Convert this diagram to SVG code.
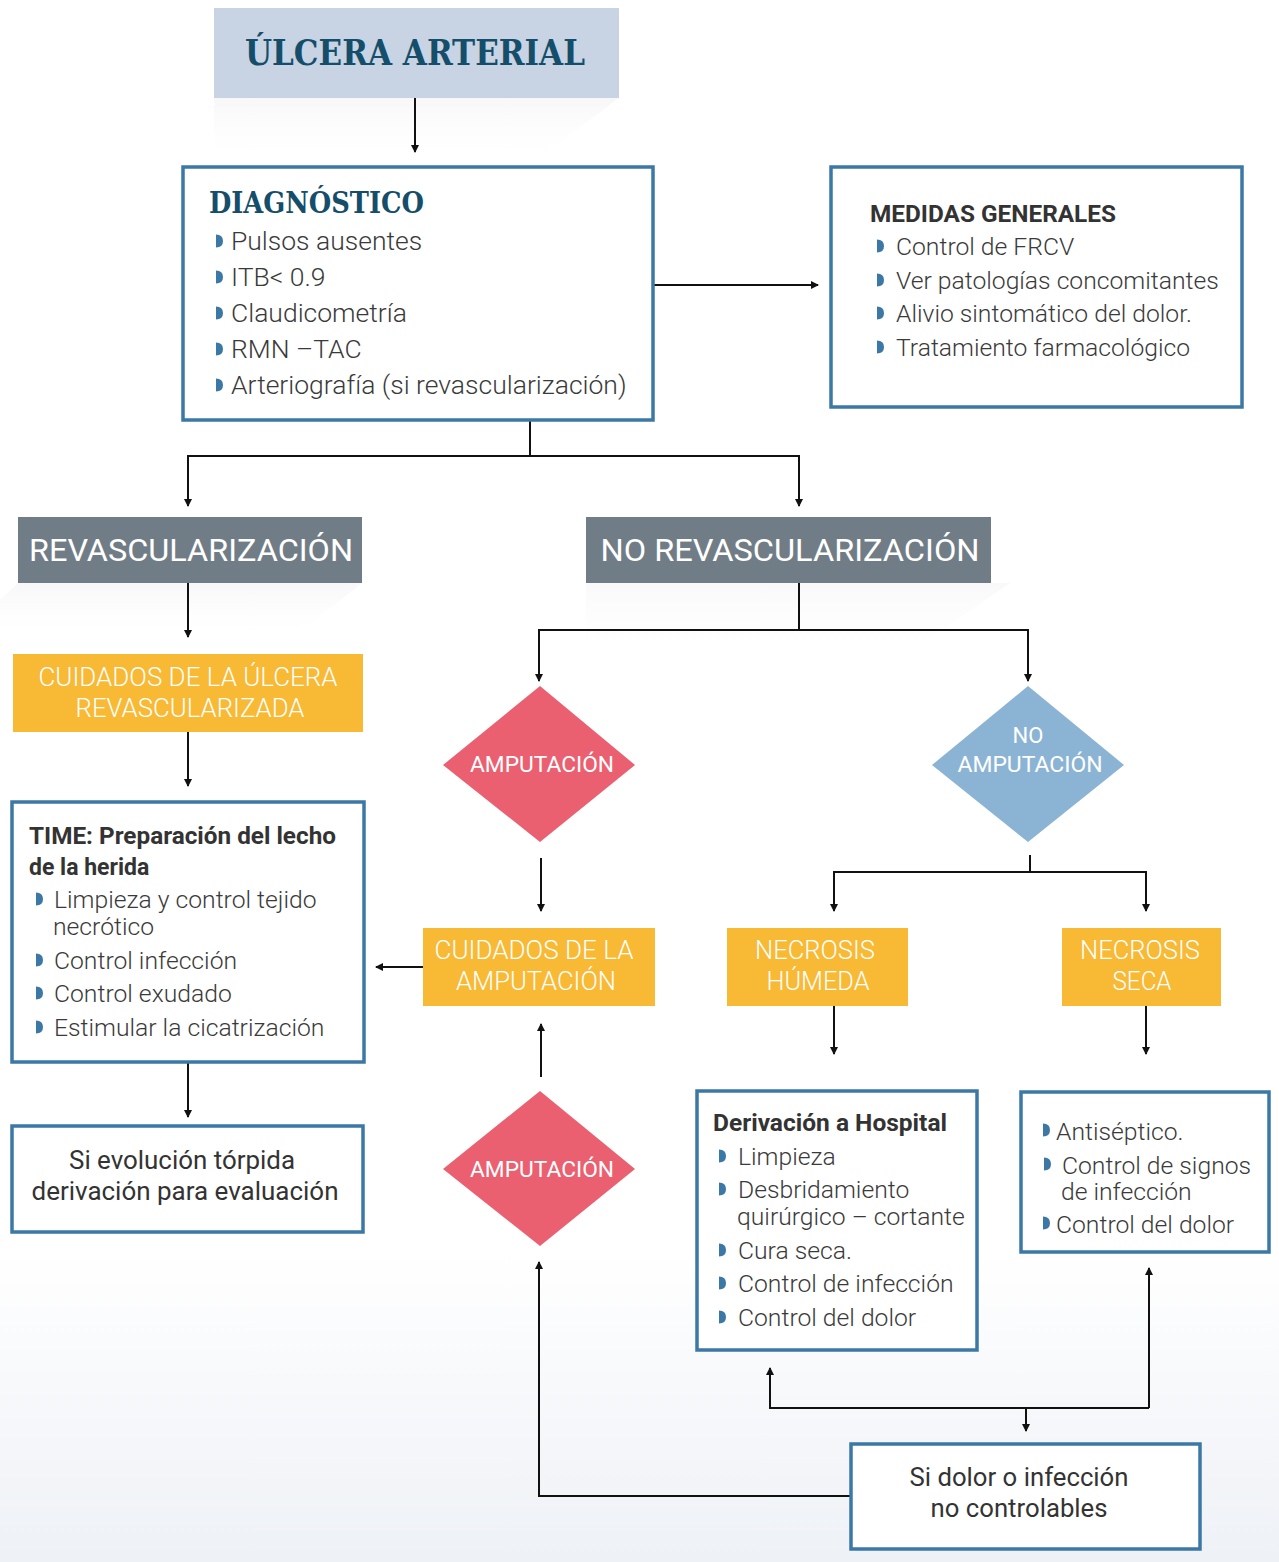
<svg xmlns="http://www.w3.org/2000/svg" xmlns:xlink="http://www.w3.org/1999/xlink" width="1279" height="1562" viewBox="0 0 1279 1562">
<defs>
<style>
.box{fill:#fff;stroke:#3b78a6;stroke-width:3.5}
.slab{font-family:"DejaVu Serif","Liberation Serif",serif;font-weight:bold;fill:#144e6a}
.body{font-family:Roboto,"Liberation Sans",sans-serif;font-weight:300;font-size:24.7px;fill:#3a3a3a}
.big{font-size:26.5px}
.bold{font-family:Roboto,"Liberation Sans",sans-serif;font-weight:bold;font-size:23px;fill:#333}
.reg{font-family:Roboto,"Liberation Sans",sans-serif;font-weight:400;font-size:25px;fill:#333}
.wh{font-family:Roboto,"Liberation Sans",sans-serif;font-weight:400;fill:#fff;text-anchor:middle}
.whl{font-family:Roboto,"Liberation Sans",sans-serif;font-weight:300;fill:#fff;text-anchor:middle;font-size:25px}
.c{fill:none;stroke:#111;stroke-width:2}
.gray{fill:#717d86}
.yel{fill:#f8b935}
.red{fill:#eb6070}
.blu{fill:#8bb4d4}
</style>
<marker id="ah" viewBox="0 0 8 8" refX="7" refY="4" markerWidth="4" markerHeight="4" orient="auto" markerUnits="strokeWidth">
<path d="M0,0 L8,4 L0,8 Z" fill="#111"/>
</marker>
<path id="bl" d="M0,-6.5 Q7,-6.5 7,0 Q7,6.5 0,6.5 Z" fill="#3b78a6"/>
<linearGradient id="sh" x1="0" y1="0" x2="0" y2="1">
<stop offset="0" stop-color="#ececec" stop-opacity="0.8"/>
<stop offset="1" stop-color="#ffffff" stop-opacity="0"/>
</linearGradient>
<linearGradient id="bg" x1="0" y1="0" x2="0" y2="1">
<stop offset="0" stop-color="#ffffff"/>
<stop offset="1" stop-color="#eef1f6"/>
</linearGradient>
</defs>
<rect x="0" y="0" width="1279" height="1562" fill="#fff"/>
<rect x="0" y="1250" width="1279" height="312" fill="url(#bg)"/>
<g id="shadows">
<polygon points="214,98 619,98 530,165 214,165" fill="url(#sh)" opacity="0.5"/>
<polygon points="18,583 362,583 290,640 0,640 0,600" fill="url(#sh)" opacity="0.5"/>
<polygon points="586,583 1010,583 900,660 586,660" fill="url(#sh)" opacity="0.4"/>
</g>

<g id="connectors">
<line class="c" x1="415" y1="98" x2="415" y2="152" marker-end="url(#ah)"/>
<line class="c" x1="653" y1="285" x2="818" y2="285" marker-end="url(#ah)"/>
<polyline class="c" points="530,420 530,456"/>
<polyline class="c" points="188,506 188,456 799,456 799,506" marker-end="url(#ah)"/>
<line class="c" x1="188" y1="456" x2="188" y2="506" marker-end="url(#ah)"/>
<line class="c" x1="188" y1="583" x2="188" y2="637" marker-end="url(#ah)"/>
<line class="c" x1="188" y1="732" x2="188" y2="786" marker-end="url(#ah)"/>
<line class="c" x1="188" y1="1062" x2="188" y2="1117" marker-end="url(#ah)"/>
<polyline class="c" points="799,583 799,630"/>
<polyline class="c" points="539,681 539,630 1028,630 1028,681" marker-end="url(#ah)"/>
<line class="c" x1="539" y1="630" x2="539" y2="681" marker-end="url(#ah)"/>
<line class="c" x1="541" y1="858" x2="541" y2="911" marker-end="url(#ah)"/>
<line class="c" x1="423" y1="967" x2="376" y2="967" marker-end="url(#ah)"/>
<line class="c" x1="541" y1="1077" x2="541" y2="1024" marker-end="url(#ah)"/>
<polyline class="c" points="1030,855 1030,872"/>
<polyline class="c" points="834,911 834,872 1146,872 1146,911" marker-end="url(#ah)"/>
<line class="c" x1="834" y1="872" x2="834" y2="911" marker-end="url(#ah)"/>
<line class="c" x1="834" y1="1006" x2="834" y2="1054" marker-end="url(#ah)"/>
<line class="c" x1="1146" y1="1006" x2="1146" y2="1054" marker-end="url(#ah)"/>
<polyline class="c" points="1149,1408 770,1408 770,1368" marker-end="url(#ah)"/>
<line class="c" x1="1149" y1="1408" x2="1149" y2="1268" marker-end="url(#ah)"/>
<line class="c" x1="1026" y1="1408" x2="1026" y2="1431" marker-end="url(#ah)"/>
<polyline class="c" points="851,1496 539,1496 539,1262" marker-end="url(#ah)"/>
</g>

<g id="n-title">
<rect x="214" y="8" width="405" height="90" fill="#c8d3e4"/>
<text class="slab" x="415" y="65" font-size="36" text-anchor="middle" textLength="340" lengthAdjust="spacingAndGlyphs">ÚLCERA ARTERIAL</text>
</g>

<g id="n-diagnostico">
<rect class="box" x="183" y="167" width="470" height="253"/>
<text class="slab" x="209" y="213" font-size="30" textLength="215" lengthAdjust="spacingAndGlyphs">DIAGNÓSTICO</text>
<use xlink:href="#bl" x="216" y="241"/>
<use xlink:href="#bl" x="216" y="277"/>
<use xlink:href="#bl" x="216" y="313"/>
<use xlink:href="#bl" x="216" y="349"/>
<use xlink:href="#bl" x="216" y="385"/>
<text class="body big" x="231" y="250">Pulsos ausentes</text>
<text class="body big" x="231" y="286">ITB&lt; 0.9</text>
<text class="body big" x="231" y="322">Claudicometría</text>
<text class="body big" x="231" y="358">RMN –TAC</text>
<text class="body big" x="231" y="394">Arteriografía (si revascularización)</text>
</g>

<g id="n-medidas">
<rect class="box" x="831" y="167" width="411" height="240"/>
<text class="bold" x="870" y="222" textLength="246" lengthAdjust="spacingAndGlyphs">MEDIDAS GENERALES</text>
<use xlink:href="#bl" x="877" y="246"/>
<use xlink:href="#bl" x="877" y="280"/>
<use xlink:href="#bl" x="877" y="313"/>
<use xlink:href="#bl" x="877" y="347"/>
<text class="body" x="896" y="255">Control de FRCV</text>
<text class="body" x="896" y="289">Ver patologías concomitantes</text>
<text class="body" x="896" y="322">Alivio sintomático del dolor.</text>
<text class="body" x="896" y="356">Tratamiento farmacológico</text>
</g>

<g id="n-revasc">
<rect class="gray" x="18" y="517" width="344" height="66"/>
<text class="wh" x="191" y="561" font-size="32" textLength="324" lengthAdjust="spacingAndGlyphs">REVASCULARIZACIÓN</text>
</g>

<g id="n-norevasc">
<rect class="gray" x="586" y="517" width="405" height="66"/>
<text class="wh" x="790" y="561" font-size="32" textLength="379" lengthAdjust="spacingAndGlyphs">NO REVASCULARIZACIÓN</text>
</g>

<g id="n-cuidados-ulcera">
<rect class="yel" x="13" y="654" width="350" height="78"/>
<text class="whl" x="188" y="686" textLength="299" lengthAdjust="spacingAndGlyphs">CUIDADOS DE LA ÚLCERA</text>
<text class="whl" x="190" y="717" textLength="229" lengthAdjust="spacingAndGlyphs">REVASCULARIZADA</text>
</g>

<g id="n-time">
<rect class="box" x="12" y="802" width="352" height="260"/>
<text class="bold" x="29" y="844" textLength="307" lengthAdjust="spacingAndGlyphs">TIME: Preparación del lecho</text>
<text class="bold" x="29" y="875">de la herida</text>
<use xlink:href="#bl" x="36" y="899"/>
<use xlink:href="#bl" x="36" y="960"/>
<use xlink:href="#bl" x="36" y="993"/>
<use xlink:href="#bl" x="36" y="1027"/>
<text class="body" x="54" y="908">Limpieza y control tejido</text>
<text class="body" x="53" y="935">necrótico</text>
<text class="body" x="54" y="969">Control infección</text>
<text class="body" x="54" y="1002">Control exudado</text>
<text class="body" x="54" y="1036">Estimular la cicatrización</text>
</g>

<g id="n-evolucion">
<rect class="box" x="12" y="1126" width="351" height="106"/>
<text class="reg" x="182" y="1169" text-anchor="middle" textLength="226" lengthAdjust="spacingAndGlyphs">Si evolución tórpida</text>
<text class="reg" x="185" y="1200" text-anchor="middle" textLength="307" lengthAdjust="spacingAndGlyphs">derivación para evaluación</text>
</g>

<g id="n-amputacion1">
<polygon class="red" points="540,686 635,765 540,842 443,765"/>
<text class="wh" x="542" y="772" font-size="22" textLength="144" lengthAdjust="spacingAndGlyphs">AMPUTACIÓN</text>
</g>

<g id="n-noamputacion">
<polygon class="blu" points="1028,686 1124,765 1028,842 932,765"/>
<text class="wh" x="1028" y="743" font-size="22">NO</text>
<text class="wh" x="1030" y="772" font-size="22" textLength="145" lengthAdjust="spacingAndGlyphs">AMPUTACIÓN</text>
</g>

<g id="n-cuidados-amp">
<rect class="yel" x="423" y="928" width="232" height="78"/>
<text class="whl" x="534" y="959" textLength="199" lengthAdjust="spacingAndGlyphs">CUIDADOS DE LA</text>
<text class="whl" x="536" y="990" textLength="160" lengthAdjust="spacingAndGlyphs">AMPUTACIÓN</text>
</g>

<g id="n-necrosis-humeda">
<rect class="yel" x="727" y="928" width="181" height="78"/>
<text class="whl" x="815" y="959" textLength="120" lengthAdjust="spacingAndGlyphs">NECROSIS</text>
<text class="whl" x="818" y="990" textLength="103" lengthAdjust="spacingAndGlyphs">HÚMEDA</text>
</g>

<g id="n-necrosis-seca">
<rect class="yel" x="1062" y="928" width="159" height="78"/>
<text class="whl" x="1140" y="959" textLength="120" lengthAdjust="spacingAndGlyphs">NECROSIS</text>
<text class="whl" x="1142" y="990" textLength="59" lengthAdjust="spacingAndGlyphs">SECA</text>
</g>

<g id="n-amputacion2">
<polygon class="red" points="540,1091 635,1169 540,1246 443,1169"/>
<text class="wh" x="542" y="1177" font-size="22" textLength="144" lengthAdjust="spacingAndGlyphs">AMPUTACIÓN</text>
</g>

<g id="n-derivacion">
<rect class="box" x="697" y="1091" width="280" height="259"/>
<text class="bold" x="713" y="1131" textLength="234" lengthAdjust="spacingAndGlyphs">Derivación a Hospital</text>
<use xlink:href="#bl" x="719" y="1156"/>
<use xlink:href="#bl" x="719" y="1189"/>
<use xlink:href="#bl" x="719" y="1250"/>
<use xlink:href="#bl" x="719" y="1283"/>
<use xlink:href="#bl" x="719" y="1317"/>
<text class="body" x="738" y="1165">Limpieza</text>
<text class="body" x="738" y="1198">Desbridamiento</text>
<text class="body" x="737" y="1225">quirúrgico – cortante</text>
<text class="body" x="738" y="1259">Cura seca.</text>
<text class="body" x="738" y="1292">Control de infección</text>
<text class="body" x="738" y="1326">Control del dolor</text>
</g>

<g id="n-seca-cuidados">
<rect class="box" x="1021" y="1092" width="248" height="160"/>
<use xlink:href="#bl" x="1043" y="1130"/>
<use xlink:href="#bl" x="1044" y="1164"/>
<use xlink:href="#bl" x="1043" y="1223"/>
<text class="body" x="1056" y="1140">Antiséptico.</text>
<text class="body" x="1062" y="1174">Control de signos</text>
<text class="body" x="1061" y="1200">de infección</text>
<text class="body" x="1056" y="1233">Control del dolor</text>
</g>

<g id="n-dolor">
<rect class="box" x="851" y="1444" width="349" height="105"/>
<text class="reg" x="1019" y="1486" text-anchor="middle" textLength="219" lengthAdjust="spacingAndGlyphs">Si dolor o infección</text>
<text class="reg" x="1019" y="1517" text-anchor="middle" textLength="177" lengthAdjust="spacingAndGlyphs">no controlables</text>
</g>
</svg>
